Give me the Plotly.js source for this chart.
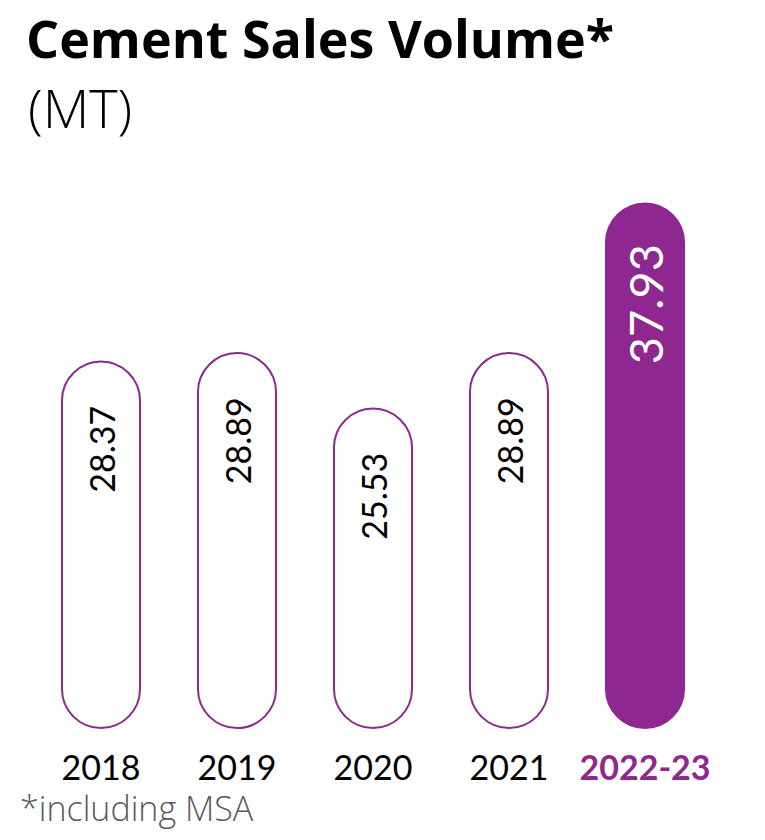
<!DOCTYPE html>
<html>
<head>
<meta charset="utf-8">
<script src="https://cdn.plot.ly/plotly-3.0.1.min.js"></script>
<style>
  html, body { margin: 0; padding: 0; background: #ffffff; }
  #chart { width: 765px; height: 840px; }
</style>
</head>
<body>
<div id="chart"></div>
<script>
// ---- data ----
const categories = ['2018', '2019', '2020', '2021', '2022-23'];
const salesVolume = [28.37, 28.89, 25.53, 28.89, 37.93];
const highlightCategory = '2022-23';
const chartTitle = 'Cement Sales Volume*';
const unitLabel = '(MT)';
const footnote = '*including MSA';

// ---- style ----
const PURPLE = '#8E2890';
const FONT = 'Lato, "Open Sans", sans-serif';
const TITLE_FONT = '"Open Sans", Lato, sans-serif';
const axisFloor = 6.2;      // value where the pills start (axis does not begin at zero)
const barWidth = 0.574;
const NB = '\u00a0';

const isHi = categories.map(c => c === highlightCategory);
const fills = isHi.map(h => h ? PURPLE : '#ffffff');
const textColors = isHi.map(h => h ? '#ffffff' : '#000000');
const textSizes = isHi.map(h => h ? 47 : 34);
// trailing padding pushes the rotated label away from the rounded top
const textPad = isHi.map(h => NB.repeat(h ? 2 : 4));

const pills = {
  type: 'bar', x: categories,
  base: salesVolume.map(() => axisFloor),
  y: salesVolume.map(v => v - axisFloor),
  width: barWidth,
  marker: { color: fills, line: { color: PURPLE, width: 2 }, cornerradius: '50%' },
  text: salesVolume.map((v, i) => v.toFixed(2) + textPad[i]),
  textposition: 'inside', insidetextanchor: 'end', textangle: -90,
  constraintext: 'none',
  textfont: { family: FONT, color: textColors, size: textSizes },
  hoverinfo: 'skip', cliponaxis: false
};

const tickText = categories.map((c, i) =>
  isHi[i] ? '<b><span style="color:' + PURPLE + '">' + c + '</span></b>' : c);

const layout = {
  width: 765, height: 840,
  margin: { l: 33, r: 52, t: 195, b: 105 },
  paper_bgcolor: '#ffffff', plot_bgcolor: '#ffffff',
  showlegend: false, hovermode: false,
  xaxis: {
    type: 'category', range: [-0.5, 4.5],
    showgrid: false, zeroline: false, showline: false, ticks: '',
    tickvals: categories, ticktext: tickText, ticklabelstandoff: 10,
    tickfont: { family: FONT, size: 34, color: '#000000' }
  },
  yaxis: { range: [5.78, 38.45], visible: false, fixedrange: true },
  annotations: [
    { xref: 'paper', yref: 'paper', x: -0.013, y: 1.292, xanchor: 'left', yanchor: 'middle',
      text: '<b>' + chartTitle + '</b>', showarrow: false,
      font: { family: TITLE_FONT, size: 52, color: '#000000' } },
    { xref: 'paper', yref: 'paper', x: -0.01, y: 1.163, xanchor: 'left', yanchor: 'middle',
      text: unitLabel, showarrow: false,
      font: { family: TITLE_FONT, size: 54, weight: 300, color: '#000000' } },
    { xref: 'paper', yref: 'paper', x: -0.022, y: -0.135, xanchor: 'left', yanchor: 'middle',
      text: footnote, showarrow: false,
      font: { family: TITLE_FONT, size: 34, weight: 300, color: '#5a5a5a' } }
  ]
};

Plotly.newPlot('chart', [pills], layout, { displayModeBar: false, staticPlot: true });
</script>
</body>
</html>
